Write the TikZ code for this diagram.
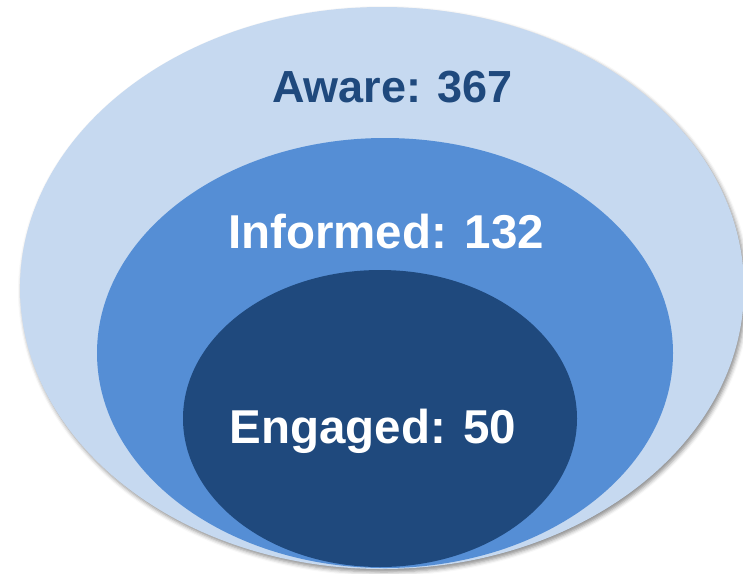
\documentclass[tikz,border=0pt]{standalone}
\usepackage{fontspec}
\setmainfont{Liberation Sans}
\usetikzlibrary{shadows.blur}
\definecolor{awarec}{HTML}{C6D9F0}
\definecolor{informedc}{HTML}{558ED5}
\definecolor{engagedc}{HTML}{1F497D}
\tikzset{
  lbl/.style={anchor=base, inner sep=0pt, font=\bfseries\fontsize{47.5}{50}\selectfont},
}
\begin{document}
\begin{tikzpicture}[x=1pt,y=-1pt]
\useasboundingbox (0,0) rectangle (743,573);
\fill[awarec, blur shadow={shadow xshift=2pt, shadow yshift=-3pt, shadow blur radius=4pt, shadow opacity=45}] (382,288) ellipse [x radius=362, y radius=281];
\fill[informedc] (385,353) ellipse [x radius=288, y radius=215];
\fill[engagedc] (380,418.5) ellipse [x radius=197, y radius=148.5];
\node[lbl, text=engagedc, font=\bfseries\fontsize{45}{48}\selectfont] (aware) at (392.5,102) {Aware: 367};
\node[lbl, text=white] (informed) at (386,248) {Informed: 132};
\node[lbl, text=white] (engaged) at (373,443) {Engaged: 50};
\end{tikzpicture}
\end{document}
